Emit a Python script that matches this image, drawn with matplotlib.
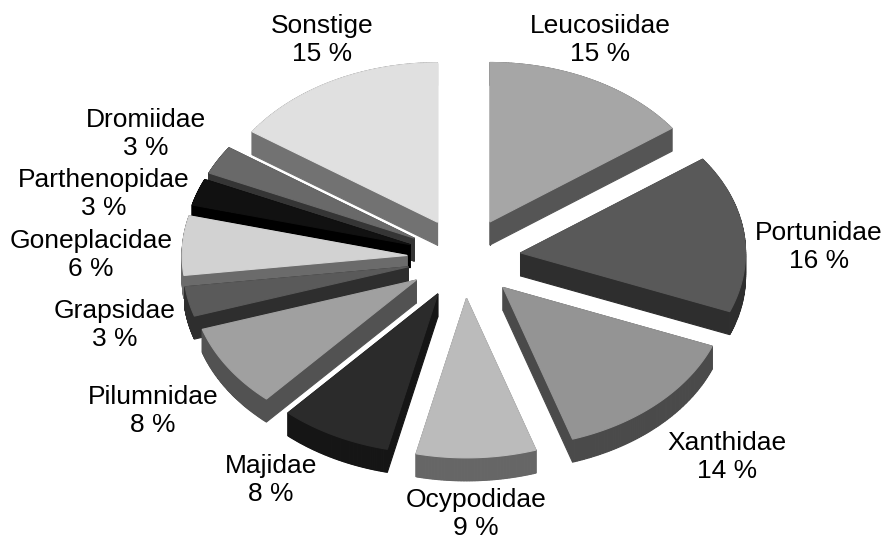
import numpy as np
import matplotlib.pyplot as plt
from matplotlib.patches import Polygon

families = ["Leucosiidae", "Portunidae", "Xanthidae", "Ocypodidae", "Majidae", "Pilumnidae",
            "Grapsidae", "Goneplacidae", "Parthenopidae", "Dromiidae", "Sonstige"]
# printed percentages
label_percent = [15, 16, 14, 9, 8, 8, 3, 6, 3, 3, 15]
shares = [15.0, 16.0, 14.0, 8.6, 8.0, 8.4, 3.0, 6.0, 2.7, 2.9, 15.4]

top_colors = ["#a6a6a6", "#595959", "#949494", "#bbbbbb", "#2b2b2b", "#a0a0a0",
              "#5a5a5a", "#d2d2d2", "#111111", "#696969", "#e0e0e0"]
side_colors = ["#555555", "#2e2e2e", "#4a4a4a", "#666666", "#151515", "#525252",
               "#2e2e2e", "#6b6b6b", "#000000", "#353535", "#727272"]

# label centres in pixels
label_pos = [(600, 40), (819, 247), (727, 457), (476, 514), (271, 480), (153, 411),
             (115, 325), (91, 255), (104, 194), (146, 134), (322, 40)]

CX, CY = 464, 258
RX, RY = 225, 159.5
EXPLODE = 57
DEPTH = 23

plt.rcParams["font.family"] = ["Liberation Sans", "DejaVu Sans"]

fig = plt.figure(figsize=(8.86, 5.4), dpi=100)
ax = fig.add_axes([0, 0, 1, 1])
ax.set_xlim(0, 886)
ax.set_ylim(540, 0)
ax.axis("off")

edges = np.cumsum([0] + shares) / sum(shares) * 2 * np.pi
slices = []
for i in range(len(shares)):
    mid = (edges[i] + edges[i + 1]) / 2
    apex_x = CX + EXPLODE * np.sin(mid)
    apex_y = CY - EXPLODE * RY / RX * np.cos(mid)
    t = np.linspace(edges[i], edges[i + 1], 80)
    xs = np.r_[apex_x, apex_x + RX * np.sin(t)]
    ys = np.r_[apex_y, apex_y - RY * np.cos(t)]
    slices.append((apex_y, i, xs, ys))

# back slices first
for apex_y, i, xs, ys in sorted(slices, key=lambda s: s[0]):
    n = len(xs)
    for j in range(n):
        k = (j + 1) % n
        quad = [(xs[j], ys[j]), (xs[k], ys[k]), (xs[k], ys[k] + DEPTH), (xs[j], ys[j] + DEPTH)]
        ax.add_patch(Polygon(quad, closed=True, fc=side_colors[i], ec=side_colors[i], lw=0.8))
    ax.add_patch(Polygon(np.c_[xs, ys], closed=True, fc=top_colors[i], ec=top_colors[i], lw=0.8))

for name, pct, (x, y) in zip(families, label_percent, label_pos):
    ax.text(x, y, f"{name}\n{pct} %", ha="center", va="center", fontsize=19,
            color="black", linespacing=1.25)

fig.savefig("out.png", dpi=100)
